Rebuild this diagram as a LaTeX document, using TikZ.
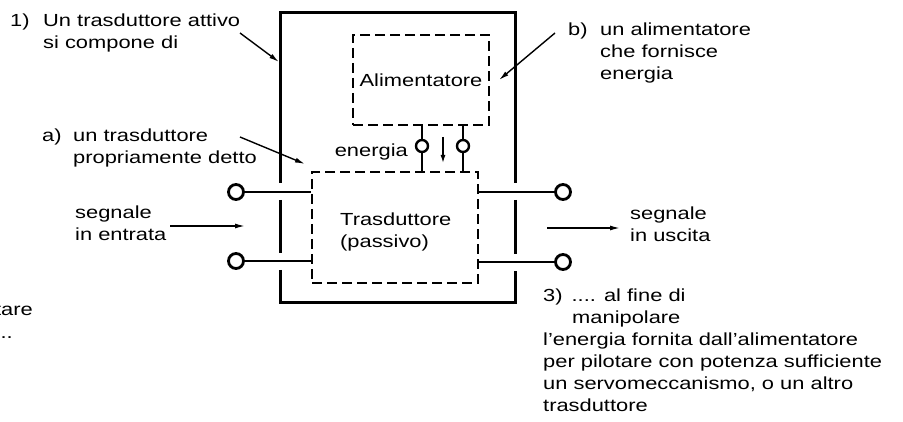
\documentclass[tikz,border=0pt]{standalone}
\usepackage{fontspec}
\setmainfont{Liberation Sans}[FakeStretch=1.25]
\usetikzlibrary{arrows.meta,positioning,calc}

\begin{document}
\begin{tikzpicture}[
  x=1pt, y=-1pt,
  font=\fontsize{17.5}{22}\selectfont,
  txt/.style={inner sep=0pt, anchor=north west, align=left},
  arr/.style={-{Latex[length=10pt, width=5pt]}, line width=1.4pt},
  wire/.style={line width=2pt},
  outer/.style={line width=3pt},
  dbox/.style={draw, dash pattern=on 10pt off 5pt, line width=2pt, inner sep=0pt, align=left},
  term/.style={draw, circle, line width=2.8pt, fill=white, minimum size=15pt, inner sep=0pt},
  pterm/.style={term, line width=2.4pt, minimum size=12pt},
]
\useasboundingbox (0,0) rectangle (903,422);

\node[dbox, minimum width=136, minimum height=90] (alim) at (421,80) {Alimentatore};
\node[dbox, minimum width=166, minimum height=111] (tras) at (395,227.5) {};
\node[txt] (trastxt) at (340,212.5) {Trasduttore\\(passivo)};
\node[minimum width=234, minimum height=289, inner sep=0pt] (attivo) at (398,157.5) {};

\node[term] (e1) at (236,192) {};
\node[term] (e2) at (236,261) {};
\node[term] (u1) at (563,192) {};
\node[term] (u2) at (563,262) {};
\node[pterm] (p1) at (422,146) {};
\node[pterm] (p2) at (463,146) {};

\draw[outer] ($(attivo.west |- e1)+(0,-9)$) -- (attivo.north west) -- (attivo.north east)
  -- ($(attivo.east |- u1)+(0,-9)$);
\draw[outer] ($(attivo.west |- e1)+(0,8)$) -- ($(attivo.west |- e2)+(0,-8)$);
\draw[outer] ($(attivo.east |- u1)+(0,8)$) -- ($(attivo.east |- u2)+(0,-8)$);
\draw[outer] ($(attivo.west |- e2)+(0,9)$) -- (attivo.south west) -- (attivo.south east)
  -- ($(attivo.east |- u2)+(0,9)$);

\draw[wire] (e1) -- (e1 -| tras.west);
\draw[wire] (e2) -- (e2 -| tras.west);
\draw[wire] (tras.east |- u1) -- (u1);
\draw[wire] (tras.east |- u2) -- (u2);
\draw[wire] (p1 |- alim.south) -- (p1) -- (p1 |- tras.north);
\draw[wire] (p2 |- alim.south) -- (p2) -- (p2 |- tras.north);

\coordinate (en1) at (443,137);
\coordinate (en2) at (443,163);
\draw[arr, -{Latex[length=8pt, width=5pt]}] (en1) -- (en2);
\node[inner sep=0pt, anchor=base east] (enl) at (408,157) {energia};

\node[txt] (lab1) at (10,13.3) {1)};
\node[txt] (txt1) at (43,13.3) {Un trasduttore attivo\\si compone di};
\node[txt] (laba) at (42,128.3) {a)};
\node[txt] (txta) at (73,128.3) {un trasduttore\\propriamente detto};
\node[txt] (labb) at (568,22.3) {b)};
\node[txt] (txtb) at (600,22.3) {un alimentatore\\che fornisce\\energia};
\node[txt] (inl) at (75,205.3) {segnale\\in entrata};
\node[txt] (outl) at (630,206.3) {segnale\\in uscita};
\node[txt] (txt3) at (543,288.3) {3)\hspace{9pt}.... al fine di\\\hspace{29pt}manipolare\\
  l'energia fornita dall'alimentatore\\per pilotare con potenza sufficiente\\
  un servomeccanismo, o un altro\\trasduttore};
\node[inner sep=0pt, anchor=base east] (frag1) at (33,316) {tare};
\node[inner sep=0pt, anchor=base east] (frag2) at (13,338) {...};

\coordinate (a1s) at (240,33);
\coordinate (a1e) at (279,62);
\draw[arr] (a1s) -- (a1e);
\coordinate (aas) at (240,137);
\coordinate (aae) at (305,164);
\draw[arr] (aas) -- (aae);
\coordinate (abs) at (555,33);
\coordinate (abe) at (499,80);
\draw[arr] (abs) -- (abe);
\coordinate (ins) at (170,226);
\coordinate (ine) at (245,226);
\draw[arr] (ins) -- (ine);
\coordinate (outs) at (547,228);
\coordinate (oute) at (620,228);
\draw[arr] (outs) -- (oute);
\end{tikzpicture}
\end{document}
